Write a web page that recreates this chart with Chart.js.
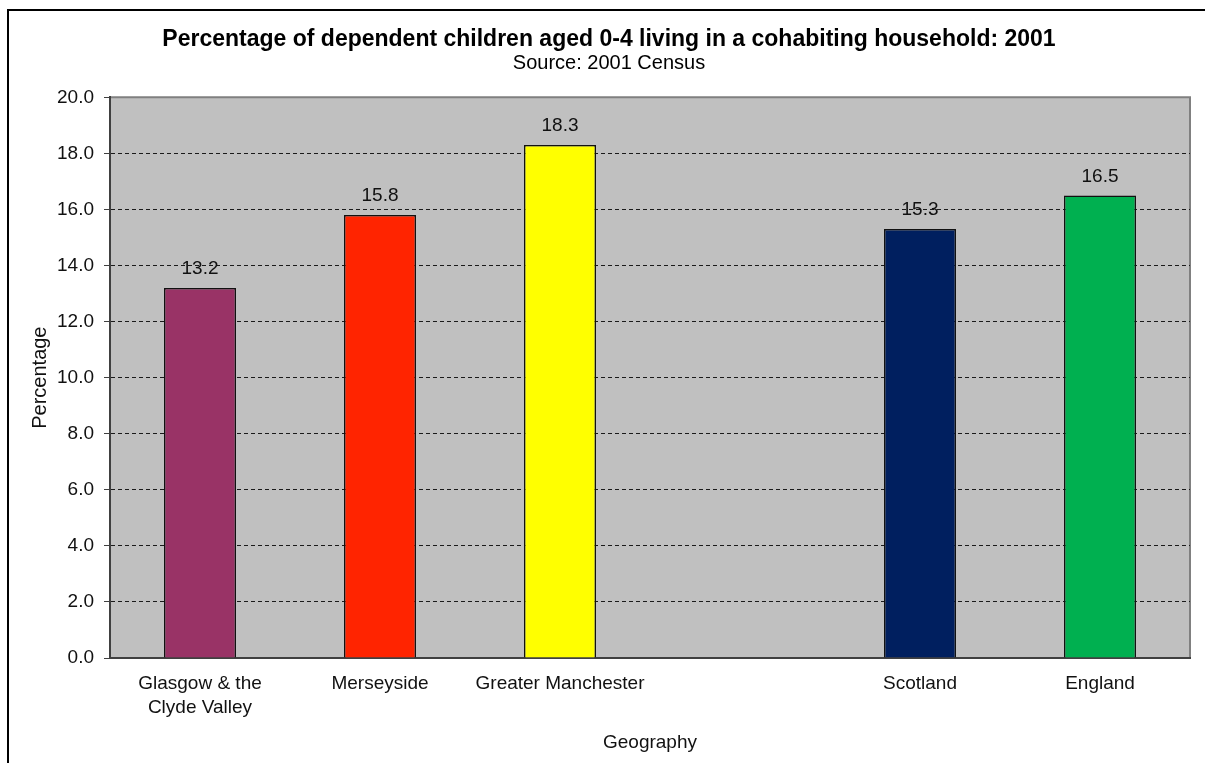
<!DOCTYPE html>
<html>
<head>
<meta charset="utf-8">
<title>Cohabiting households 2001</title>
<script src="https://cdn.jsdelivr.net/npm/chart.js@4/dist/chart.umd.min.js"></script>
<style>
  html, body { margin: 0; padding: 0; background: #fff; }
  #wrap { width: 1205px; height: 763px; }
</style>
</head>
<body>
<div id="wrap"><canvas id="cohabChart" width="1205" height="763"></canvas></div>
<script>
// Chart data
const areas = ["Glasgow & the|Clyde Valley", "Merseyside", "Greater Manchester", "", "Scotland", "England"];
const percentages = [13.2, 15.8, 18.3, null, 15.3, 16.5];
const barColours = ["#993366", "#FF2400", "#FFFF00", "#C0C0C0", "#001F5F", "#00B050"];
const yTicks = [0, 2, 4, 6, 8, 10, 12, 14, 16, 18, 20];

const FONT = "'Liberation Sans', Arial, sans-serif";

// grey plot background + outer frame
const backdrop = {
  id: "backdrop",
  beforeDraw(chart) {
    const { ctx, chartArea: a } = chart;
    ctx.save();
    ctx.fillStyle = "#C0C0C0";
    ctx.fillRect(a.left, a.top, a.right - a.left, a.bottom - a.top);
    ctx.strokeStyle = "#808080";
    ctx.lineWidth = 2;
    ctx.beginPath();
    ctx.moveTo(a.left, a.top);
    ctx.lineTo(a.right, a.top);
    ctx.lineTo(a.right, a.bottom);
    ctx.stroke();
    // frame around the whole chart
    ctx.strokeStyle = "#000";
    ctx.lineWidth = 2;
    ctx.beginPath();
    ctx.moveTo(8, chart.height);
    ctx.lineTo(8, 10);
    ctx.lineTo(chart.width, 10);
    ctx.stroke();
    ctx.restore();
  }
};

// value printed above each bar
const barValues = {
  id: "barValues",
  afterDatasetsDraw(chart) {
    const { ctx } = chart;
    const meta = chart.getDatasetMeta(0);
    ctx.save();
    ctx.font = "19px " + FONT;
    ctx.fillStyle = "#111";
    ctx.textAlign = "center";
    ctx.textBaseline = "middle";
    meta.data.forEach((bar, i) => {
      const v = percentages[i];
      if (v == null) return;
      ctx.fillText(v.toFixed(1), bar.x, bar.y - 19);
    });
    ctx.restore();
  }
};

new Chart(document.getElementById("cohabChart"), {
  type: "bar",
  data: {
    labels: areas.map((a) => a.split("|")),
    datasets: [{
      data: percentages,
      backgroundColor: barColours,
      borderColor: "#111",
      borderWidth: 1.5,
      barPercentage: 0.4,
      categoryPercentage: 1
    }]
  },
  options: {
    responsive: false,
    animation: false,
    layout: { padding: { left: 28, right: 15, top: 0, bottom: 0 } },
    plugins: {
      legend: { display: false },
      tooltip: { enabled: false },
      title: {
        display: true,
        text: "Percentage of dependent children aged 0-4 living in a cohabiting household: 2001",
        color: "#000",
        font: { family: FONT, size: 23, weight: "bold", lineHeight: 1.1 },
        padding: { top: 27, bottom: 0 }
      },
      subtitle: {
        display: true,
        text: "Source: 2001 Census",
        color: "#000",
        font: { family: FONT, size: 20, lineHeight: 1.0 },
        padding: { top: 1, bottom: 24 }
      }
    },
    scales: {
      x: {
        afterFit(scale) { scale.height = 105; },
        grid: { display: false, drawTicks: false, tickLength: 0 },
        border: { color: "#404040", width: 2 },
        ticks: {
          color: "#111",
          font: { family: FONT, size: 19, lineHeight: 1.26 },
          padding: 14,
          maxRotation: 0,
          autoSkip: false
        },
        title: {
          display: true,
          text: "Geography",
          color: "#111",
          font: { family: FONT, size: 19 },
          padding: { top: 0, bottom: 9 }
        }
      },
      y: {
        min: 0,
        max: 20,
        afterFit(scale) { scale.width = 82; },
        afterBuildTicks(scale) { scale.ticks = yTicks.map((v) => ({ value: v })); },
        grid: {
          color: (c) => (c.tick && (c.tick.value === 0 || c.tick.value === 20)) ? "rgba(0,0,0,0)" : "#1a1a1a",
          lineWidth: 1,
          tickBorderDash: [],
          tickColor: "#404040",
          tickLength: 6,
          drawTicks: true
        },
        border: { color: "#404040", width: 2, dash: [4, 3] },
        ticks: {
          color: "#111",
          font: { family: FONT, size: 19 },
          padding: 10,
          callback: (v) => Number(v).toFixed(1)
        },
        title: {
          display: true,
          text: "Percentage",
          color: "#111",
          font: { family: FONT, size: 20 },
          padding: { top: 0, bottom: 0 }
        }
      }
    }
  },
  plugins: [backdrop, barValues]
});
</script>
</body>
</html>
